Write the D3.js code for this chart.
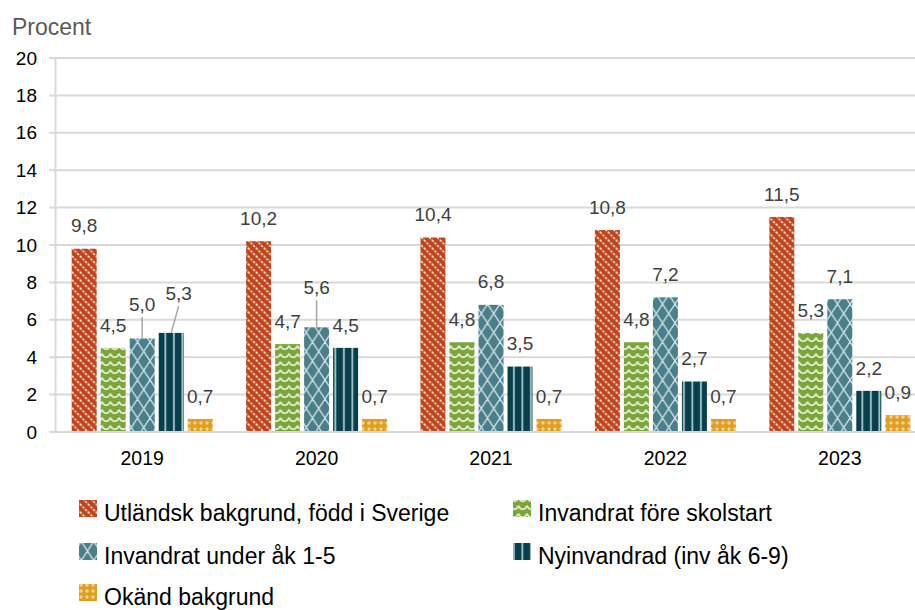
<!DOCTYPE html>
<html><head><meta charset="utf-8">
<script src="https://cdn.jsdelivr.net/npm/d3@7"></script>
<style>
body{margin:0;background:#fff;}
text{font-family:"Liberation Sans",Arial,sans-serif;}
</style></head>
<body><svg id="c" width="915" height="610"></svg>
<script>
const years = ["2019","2020","2021","2022","2023"];
const seriesNames = ["Utländsk bakgrund, född i Sverige","Invandrat före skolstart","Invandrat under åk 1-5","Nyinvandrad (inv åk 6-9)","Okänd bakgrund"];
const utlandsk = [9.8,10.2,10.4,10.8,11.5];
const foreSkolstart = [4.5,4.7,4.8,4.8,5.3];
const underAk15 = [5.0,5.6,6.8,7.2,7.1];
const nyinvandrad = [5.3,4.5,3.5,2.7,2.2];
const okand = [0.7,0.7,0.7,0.7,0.9];
const yTicks = [0,2,4,6,8,10,12,14,16,18,20];
const seriesValues = [utlandsk, foreSkolstart, underAk15, nyinvandrad, okand];

const svg = d3.select("#c");
const defs = svg.append("defs");

function pat(id,w,h,bg,draw){
  const p = defs.append("pattern").attr("id",id).attr("patternUnits","userSpaceOnUse").attr("width",w).attr("height",h);
  p.append("rect").attr("width",w).attr("height",h).attr("fill",bg);
  draw(p);
}
pat("p0",8,8,"#C0461F",p=>{
  const g=p.append("g").attr("stroke","#f1d2c6").attr("stroke-width",1.7).attr("stroke-dasharray","2.4,1.2");
  g.append("line").attr("x1",0).attr("y1",0).attr("x2",8).attr("y2",8);
  g.append("line").attr("x1",-4).attr("y1",4).attr("x2",4).attr("y2",12);
  g.append("line").attr("x1",4).attr("y1",-4).attr("x2",12).attr("y2",4);
});
pat("p1",8.5,8,"#7DA33B",p=>{
  p.append("path").attr("d","M0,1.5 C1.5,6.5 7,6.5 8.5,1.5").attr("fill","none").attr("stroke","#e3eed2").attr("stroke-width",1.8);
});
pat("p2",12.5,19,"#4A7E8B",p=>{
  const g=p.append("g").attr("stroke","#cfe0e4").attr("stroke-width",1.3);
  g.append("line").attr("x1",0).attr("y1",0).attr("x2",12.5).attr("y2",19);
  g.append("line").attr("x1",12.5).attr("y1",0).attr("x2",0).attr("y2",19);
});
pat("p3",8.5,8,"#073F4B",p=>{
  p.append("rect").attr("x",3).attr("y",0).attr("width",1.8).attr("height",8).attr("fill","#a9c6cb");
});
pat("p4",6,6,"#DE9F22",p=>{
  const g=p.append("g").attr("stroke","#f6dfa8").attr("stroke-width",1);
  g.append("line").attr("x1",3).attr("y1",1).attr("x2",3).attr("y2",5);
  g.append("line").attr("x1",1).attr("y1",3).attr("x2",5).attr("y2",3);
});

const y = d3.scaleLinear().domain([0,20]).range([432,58]);
const x0 = d3.scaleBand().domain(years).range([55,927]).padding(0);
const groupW = 141;
const x1 = d3.scaleBand().domain(d3.range(5)).range([0,groupW]).paddingInner(4/29).paddingOuter(0);
const gx = yr => x0(yr) + (x0.bandwidth()-groupW)/2;

svg.append("g").selectAll("line").data(yTicks).join("line")
  .attr("x1",49).attr("x2",915).attr("y1",d=>y(d)).attr("y2",d=>y(d))
  .attr("stroke","#d9d9d9").attr("stroke-width",2);
svg.append("line").attr("x1",55.5).attr("x2",55.5).attr("y1",y(20)).attr("y2",y(0)).attr("stroke","#d9d9d9").attr("stroke-width",2);

svg.append("g").selectAll("text").data(yTicks).join("text")
  .attr("x",37).attr("y",d=>y(d)).attr("dy","0.35em").attr("text-anchor","end")
  .attr("font-size",19).attr("fill","#000").text(d=>d);
svg.append("text").attr("x",12).attr("y",35).attr("font-size",23).attr("fill","#595959").text("Procent");

const bars = [];
years.forEach((yr,i)=>seriesValues.forEach((vals,s)=>bars.push({yr,s,v:vals[i]})));
svg.append("g").selectAll("rect").data(bars).join("rect")
  .attr("x",d=>gx(d.yr)+x1(d.s)).attr("width",x1.bandwidth())
  .attr("y",d=>y(d.v)).attr("height",d=>y(0)-y(d.v))
  .attr("fill",d=>`url(#p${d.s})`);

svg.append("line").attr("x1",49).attr("x2",915).attr("y1",y(0)).attr("y2",y(0)).attr("stroke","#d9d9d9").attr("stroke-width",2);

svg.append("g").selectAll("text").data(years).join("text")
  .attr("x",d=>gx(d)+x1(2)+x1.bandwidth()/2).attr("y",465).attr("text-anchor","middle")
  .attr("font-size",19.5).attr("fill","#000").text(d=>d);

const leaders = {"2019-2":{dx:0,lift:11.5},"2019-3":{dx:7.5,lift:17},"2020-2":{dx:0,lift:17}};
const fmt = v => d3.format(".1f")(v).replace(".",",");
const lg = svg.append("g");
bars.forEach(d=>{
  const cx = gx(d.yr)+x1(d.s)+x1.bandwidth()/2;
  const top = y(d.v);
  const L = leaders[d.yr+"-"+d.s];
  const lift = L?L.lift:0, dx = L?L.dx:0;
  const cy = top-23-lift;
  lg.append("text").attr("x",cx+dx).attr("y",cy).attr("dy","0.35em").attr("text-anchor","middle")
    .attr("font-size",19).attr("fill","#404040").text(fmt(d.v));
  if(L){
    lg.append("line").attr("x1",cx+dx).attr("y1",cy+13).attr("x2",cx).attr("y2",top)
      .attr("stroke","#a6a6a6").attr("stroke-width",1.5);
  }
});

const legPos = [[79,500],[513,500],[79,543],[513,543],[79,584]];
const leg = svg.append("g");
seriesNames.forEach((n,i)=>{
  const [lx,ly]=legPos[i];
  leg.append("rect").attr("x",lx).attr("y",ly).attr("width",18).attr("height",17).attr("fill",`url(#p${i})`);
  leg.append("text").attr("x",lx+25).attr("y",ly+21).attr("font-size",23).attr("fill","#000").text(n);
});
</script></body></html>
